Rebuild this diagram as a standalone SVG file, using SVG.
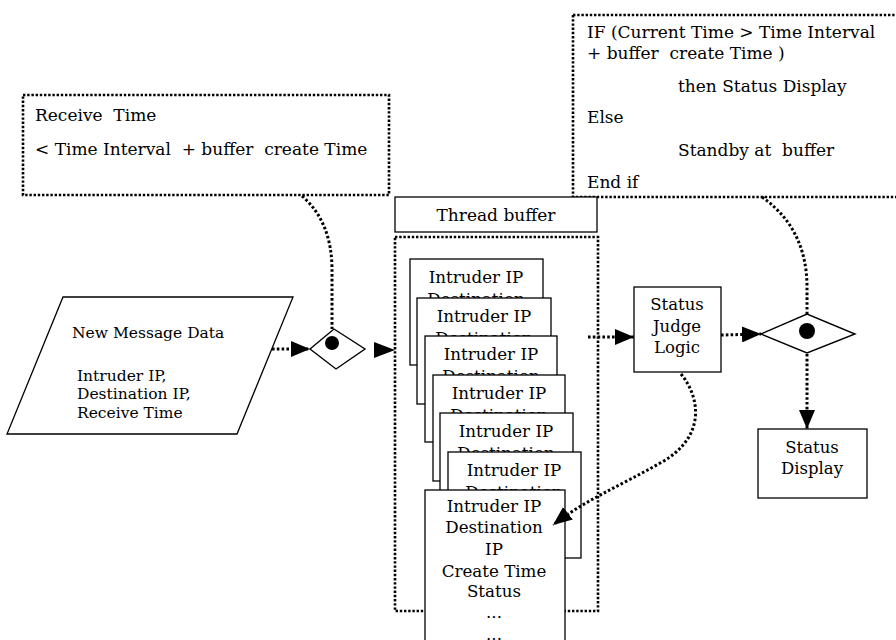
<svg xmlns="http://www.w3.org/2000/svg" width="896" height="640" viewBox="0 0 896 640">
  <style>
    text { font-family: "DejaVu Serif", "Liberation Serif", serif; fill: #000; white-space: pre; }
    .note { font-size: 17px; }
    .data { font-size: 15.5px; }
    .card { font-size: 16.7px; text-anchor: middle; }
    .lbl { font-size: 16.5px; text-anchor: middle; }
    .box { fill: #fff; stroke: #000; stroke-width: 1.3; }
    .dotbox { fill: none; stroke: #000; stroke-width: 2.6; stroke-dasharray: 2.4 1.8; }
    .flow { fill: none; stroke: #000; stroke-width: 3; stroke-dasharray: 2.6 2.2; }
    .dec { fill: #fff; stroke: #000; stroke-width: 1.4; }
    .tip { fill: #000; }
  </style>
  <defs>
    <marker id="head" markerUnits="userSpaceOnUse" markerWidth="20" markerHeight="16" refX="19" refY="8" orient="auto">
      <path d="M0,0 L19,8 L0,16 z" fill="#000"/>
    </marker>
  </defs>
  <rect width="896" height="640" fill="#fff"/>

  <!-- condition note for incoming messages -->
  <g id="note-receive">
    <rect class="dotbox" x="23" y="95" width="366" height="100"/>
    <text class="note" x="35" y="121">Receive  Time</text>
    <text class="note" x="35" y="155">&lt; Time Interval  + buffer  create Time</text>
  </g>

  <!-- condition note for status output -->
  <g id="note-status">
    <rect class="dotbox" x="573" y="15" width="340" height="182"/>
    <text class="note" x="587" y="38">IF (Current Time &gt; Time Interval</text>
    <text class="note" x="587" y="59">+ buffer  create Time )</text>
    <text class="note" x="678" y="92">then Status Display</text>
    <text class="note" x="587" y="123">Else</text>
    <text class="note" x="678" y="156">Standby at  buffer</text>
    <text class="note" x="587" y="188">End if</text>
  </g>

  <!-- input data -->
  <g id="new-message">
    <polygon class="box" points="63,297 293,297 237,434 7,434"/>
    <text class="data" x="72" y="338">New Message Data</text>
    <text class="data" x="77" y="381">Intruder IP,</text>
    <text class="data" x="77" y="399">Destination IP,</text>
    <text class="data" x="77" y="418">Receive Time</text>
  </g>

  <!-- thread buffer -->
  <g id="thread-buffer">
    <rect class="box" x="395" y="197" width="202" height="35"/>
    <text class="lbl" x="496" y="221" style="font-size:17px">Thread buffer</text>
    <rect class="dotbox" x="395" y="237" width="203" height="374"/>
  </g>

  <!-- buffered records, back to front -->
  <g id="record-1">
    <rect class="box" x="410" y="259" width="133" height="106"/>
    <text class="card" x="476" y="283">Intruder IP</text>
    <text class="card" x="476" y="305">Destination</text>
  </g>
  <g id="record-2">
    <rect class="box" x="417" y="298" width="134" height="106"/>
    <text class="card" x="484" y="322">Intruder IP</text>
    <text class="card" x="484" y="344">Destination</text>
  </g>
  <g id="record-3">
    <rect class="box" x="425" y="336" width="132" height="106"/>
    <text class="card" x="491" y="360">Intruder IP</text>
    <text class="card" x="491" y="382">Destination</text>
  </g>
  <g id="record-4">
    <rect class="box" x="433" y="375" width="132" height="106"/>
    <text class="card" x="499" y="399">Intruder IP</text>
    <text class="card" x="499" y="421">Destination</text>
  </g>
  <g id="record-5">
    <rect class="box" x="440" y="413" width="133" height="106"/>
    <text class="card" x="506" y="437">Intruder IP</text>
    <text class="card" x="506" y="459">Destination</text>
  </g>
  <g id="record-6">
    <rect class="box" x="448" y="452" width="133" height="106"/>
    <text class="card" x="514" y="476">Intruder IP</text>
    <text class="card" x="514" y="498">Destination</text>
  </g>
  <g id="record-7">
    <rect class="box" x="425" y="490" width="140" height="170"/>
    <text class="card" x="494" y="512">Intruder IP</text>
    <text class="card" x="494" y="533">Destination</text>
    <text class="card" x="494" y="555">IP</text>
    <text class="card" x="494" y="577">Create Time</text>
    <text class="card" x="494" y="597">Status</text>
    <text class="card" x="494" y="618">...</text>
    <text class="card" x="494" y="640">...</text>
  </g>

  <!-- logic and output -->
  <g id="status-judge">
    <rect class="box" x="634" y="287" width="87" height="85"/>
    <text class="lbl" x="677" y="310">Status</text>
    <text class="lbl" x="677" y="332">Judge</text>
    <text class="lbl" x="677" y="353">Logic</text>
  </g>
  <g id="status-display">
    <rect class="box" x="758" y="429" width="109" height="69"/>
    <text class="lbl" x="812" y="453">Status</text>
    <text class="lbl" x="812" y="474">Display</text>
  </g>

  <!-- decisions -->
  <g id="gate-in">
    <polygon class="dec" points="310,349 334,329 365,349 336,369"/>
    <circle cx="332" cy="343" r="7" fill="#000"/>
  </g>
  <g id="gate-out">
    <polygon class="dec" points="761,334 807,314 855,334 807,353"/>
    <circle cx="807" cy="331" r="8" fill="#000"/>
  </g>

  <!-- connectors -->
  <g id="connectors">
    <path class="flow" d="M302,196 Q332,222 332,270 L332,329"/>
    <path class="flow" d="M762,197 Q806,228 807,285 L807,314"/>
    <path class="flow" d="M272,349 L310,349" marker-end="url(#head)"/>
    <path class="tip" d="M374,342 L395,350 L374,358 z"/>
    <path class="flow" d="M588,337 L634,337" marker-end="url(#head)"/>
    <path class="flow" d="M721,335 L761,334" marker-end="url(#head)"/>
    <path class="flow" d="M807,354 L807,429" marker-end="url(#head)"/>
    <path class="flow" d="M681,374 C702,400 704,438 662,462 S585,500 553,525" marker-end="url(#head)"/>
  </g>
</svg>
